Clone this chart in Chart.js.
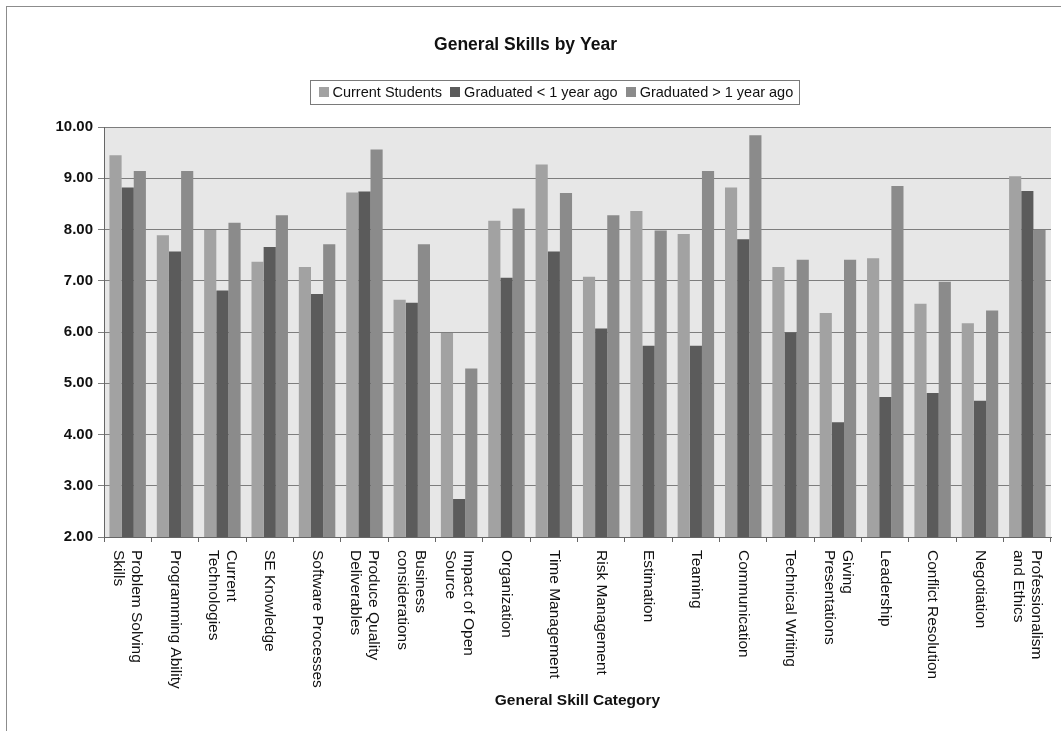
<!DOCTYPE html>
<html>
<head>
<meta charset="utf-8">
<title>General Skills by Year</title>
<script src="https://cdn.jsdelivr.net/npm/chart.js@4.4.1/dist/chart.umd.min.js"></script>
<style>
  html, body { margin: 0; padding: 0; background: #fff; overflow: hidden; }
  #wrap { position: relative; width: 1061px; height: 731px; }
  #frame { position: absolute; left: 6px; top: 6px; width: 1200px; height: 900px; border: 1px solid #8c8c8c; }
  #chart { position: absolute; left: 0; top: 0; }
</style>
</head>
<body>
<div id="wrap">
  <div id="frame"></div>
  <canvas id="chart" width="1061" height="731"></canvas>
</div>
<script>
// skill categories, one entry per line of the axis label
const categories = [
  ['Problem Solving', 'Skills'],
  ['Programming Ability'],
  ['Current', 'Technologies'],
  ['SE Knowledge'],
  ['Software Processes'],
  ['Produce Quality', 'Deliverables'],
  ['Business', 'considerations'],
  ['Impact of Open', 'Source'],
  ['Organization'],
  ['Time Management'],
  ['Risk Management'],
  ['Estimation'],
  ['Teaming'],
  ['Communication'],
  ['Technical Writing'],
  ['Giving', 'Presentations'],
  ['Leadership'],
  ['Conflict Resolution'],
  ['Negotiation'],
  ['Professionalism', 'and Ethics']
];

const seriesNames = ['Current Students', 'Graduated < 1 year ago', 'Graduated > 1 year ago'];

const currentStudents = [9.45, 7.89, 7.99, 7.37, 7.27, 8.72, 6.63, 5.98, 8.17, 9.27, 7.08, 8.36, 7.91, 8.82, 7.27, 6.37, 7.44, 6.55, 6.17, 9.04];
const gradUnderOne   = [8.82, 7.57, 6.81, 7.66, 6.74, 8.74, 6.57, 2.74, 7.06, 7.57, 6.07, 5.73, 5.73, 7.81, 5.99, 4.24, 4.73, 4.81, 4.66, 8.75];
const gradOverOne    = [9.14, 9.14, 8.13, 8.28, 7.71, 9.56, 7.71, 5.29, 8.41, 8.71, 8.28, 7.98, 9.14, 9.84, 7.41, 7.41, 8.85, 6.98, 6.42, 7.99];

const yTicks = [2, 3, 4, 5, 6, 7, 8, 9, 10];

const colors = ['#a2a2a2', '#5b5b5b', '#8b8b8b'];
const FONT = "'Liberation Sans', Arial, Helvetica, sans-serif";

// grey plot background
const plotBg = {
  id: 'plotBg',
  beforeDraw(chart) {
    const a = chart.chartArea, ctx = chart.ctx;
    ctx.save();
    ctx.fillStyle = '#e7e7e7';
    ctx.fillRect(a.left, a.top, a.right - a.left, a.bottom - a.top);
    ctx.restore();
  }
};

// boxed legend under the title
const boxLegend = {
  id: 'boxLegend',
  afterDraw(chart) {
    const ctx = chart.ctx;
    ctx.save();
    ctx.font = '14.5px ' + FONT;
    const sq = 10, gap = 4, between = 8, padL = 8, padR = 6;
    const widths = chart.data.datasets.map(d => ctx.measureText(d.label).width);
    let total = padL + padR;
    widths.forEach((w, i) => { total += sq + gap + w + (i < widths.length - 1 ? between : 0); });
    const cy = 92, h = 24;
    const left = Math.round(554 - total / 2) + 0.5;
    ctx.fillStyle = '#fff';
    ctx.fillRect(left, cy - h / 2, total, h);
    ctx.strokeStyle = '#7a7a7a';
    ctx.lineWidth = 1;
    ctx.strokeRect(left, Math.round(cy - h / 2) + 0.5, Math.round(total), h);
    let x = left + padL;
    chart.data.datasets.forEach((d, i) => {
      ctx.fillStyle = d.backgroundColor;
      ctx.fillRect(Math.round(x), cy - sq / 2, sq, sq);
      x += sq + gap;
      ctx.fillStyle = '#111';
      ctx.textBaseline = 'middle';
      ctx.textAlign = 'left';
      ctx.fillText(d.label, x, cy + 1);
      x += widths[i] + between;
    });
    ctx.restore();
  }
};

// vertical category labels (reading top to bottom) and the axis title
const skillLabels = {
  id: 'skillLabels',
  afterDraw(chart) {
    const ctx = chart.ctx, xs = chart.scales.x;
    const top = xs.top + 13, lh = 18;
    ctx.save();
    ctx.fillStyle = '#111';
    ctx.font = '15.5px ' + FONT;
    ctx.textAlign = 'left';
    ctx.textBaseline = 'middle';
    categories.forEach((lines, i) => {
      const x = xs.getPixelForValue(i);
      ctx.save();
      ctx.translate(x, top);
      ctx.rotate(Math.PI / 2);
      lines.forEach((t, j) => {
        ctx.fillText(t, 0, (j - (lines.length - 1) / 2) * lh);
      });
      ctx.restore();
    });
    ctx.font = 'bold 15.5px ' + FONT;
    ctx.textAlign = 'center';
    ctx.fillText('General Skill Category', (xs.left + xs.right) / 2, 701);
    ctx.restore();
  }
};

new Chart(document.getElementById('chart'), {
  type: 'bar',
  data: {
    labels: categories,
    datasets: [
      { label: seriesNames[0], data: currentStudents, backgroundColor: colors[0] },
      { label: seriesNames[1], data: gradUnderOne, backgroundColor: colors[1] },
      { label: seriesNames[2], data: gradOverOne, backgroundColor: colors[2] }
    ]
  },
  options: {
    responsive: false,
    animation: false,
    devicePixelRatio: 1,
    layout: { padding: { left: 0, right: 10, top: 0, bottom: 0 } },
    datasets: { bar: { categoryPercentage: 0.77, barPercentage: 1.0, borderWidth: 0 } },
    plugins: {
      legend: { display: false },
      tooltip: { enabled: false },
      title: {
        display: true,
        text: 'General Skills by Year',
        color: '#111',
        font: { family: FONT, size: 17.5, weight: 'bold' },
        padding: { top: 34.5, bottom: 71.5 }
      }
    },
    scales: {
      x: {
        offset: true,
        grid: { display: true, offset: true, drawOnChartArea: false, drawTicks: true, tickLength: 5, color: '#666' },
        border: { display: true, color: '#666', width: 1 },
        ticks: { display: false },
        afterFit(scale) { scale.height = 194; }
      },
      y: {
        min: 2,
        max: 10,
        afterBuildTicks(scale) { scale.ticks = yTicks.map(v => ({ value: v })); },
        grid: { color: '#7d7d7d', tickLength: 6, drawTicks: true },
        border: { display: true, color: '#666', width: 1 },
        ticks: {
          padding: 5,
          color: '#111',
          font: { family: FONT, size: 15, weight: 'bold' },
          callback: v => Number(v).toFixed(2)
        },
        afterFit(scale) { scale.width = 104; }
      }
    }
  },
  plugins: [plotBg, boxLegend, skillLabels]
});
</script>
</body>
</html>
